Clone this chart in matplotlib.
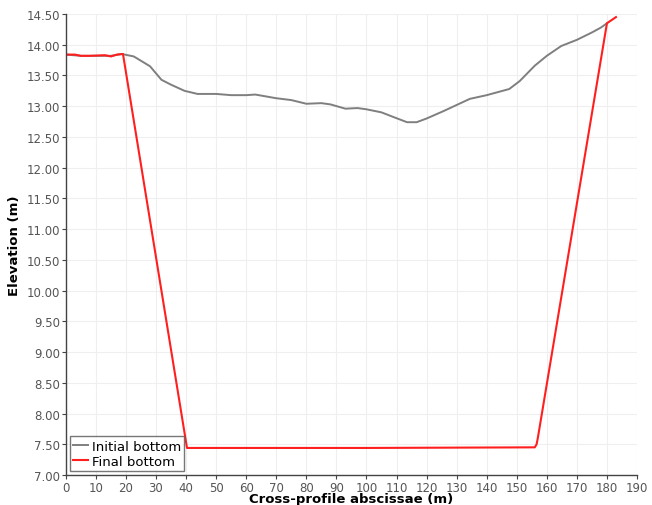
import numpy as np
import matplotlib.pyplot as plt

# cross-profile abscissae (m) and bed elevations (m)
x_init = [0, 5, 10, 15, 18.6, 22.6, 28, 31.8, 35, 39.5, 43.8, 50, 55, 60, 63,
          70, 75, 80, 85, 88, 93, 97, 100, 105, 109.2, 113.5, 116.7, 120,
          125.6, 130, 134.4, 140, 147.5, 151, 156, 160, 164.8, 170, 175, 178, 180]
z_init = [13.84, 13.82, 13.82, 13.82, 13.85, 13.81, 13.65, 13.43, 13.35, 13.25,
          13.20, 13.20, 13.18, 13.18, 13.19, 13.13, 13.10, 13.04, 13.05, 13.03,
          12.96, 12.97, 12.95, 12.90, 12.82, 12.74, 12.74, 12.80, 12.92, 13.02,
          13.12, 13.18, 13.28, 13.41, 13.66, 13.82, 13.98, 14.08, 14.20, 14.28, 14.35]

x_final = [0, 3, 5, 8, 13, 15, 17, 19, 40.3, 100, 156.0, 156.6, 157.0, 180, 183]
z_final = [13.84, 13.84, 13.82, 13.82, 13.83, 13.81, 13.84, 13.85, 7.44, 7.44,
           7.45, 7.50, 7.60, 14.35, 14.45]

xticks = np.arange(0, 191, 10)
yticks = np.arange(7.0, 14.51, 0.5)

fig = plt.figure(figsize=(6.52, 5.06), dpi=100)
ax = fig.add_axes([0.101, 0.0593, 0.876, 0.911])

ax.plot(x_init, z_init, color='#7f7f7f', lw=1.4, label='Initial bottom')
ax.plot(x_final, z_final, color='#ff1f1f', lw=1.5, label='Final bottom')

ax.set_xlim(0, 190)
ax.set_ylim(7.0, 14.5)
ax.set_xticks(xticks)
ax.set_yticks(yticks)
ax.set_yticklabels(['%0.2f' % v for v in yticks])
ax.grid(True, color='#efefef', lw=0.8)
ax.set_axisbelow(True)

for s in ['top', 'right']:
    ax.spines[s].set_visible(False)
for s in ['left', 'bottom']:
    ax.spines[s].set_color('#444444')
    ax.spines[s].set_linewidth(1.0)
ax.tick_params(colors='#444444', labelsize=8.5, length=3, pad=1)
for lb in ax.get_xticklabels() + ax.get_yticklabels():
    lb.set_color('#555555')

ax.set_xlabel('Cross-profile abscissae (m)', fontsize=9.5, fontweight='bold', labelpad=-1)
ax.set_ylabel('Elevation (m)', fontsize=9.5, fontweight='bold', labelpad=4)

leg = ax.legend(loc='lower left', fontsize=9.5, handlelength=1.1, handletextpad=0.3,
                borderpad=0.25, labelspacing=0.15, fancybox=False,
                borderaxespad=0.3)
leg.get_frame().set_edgecolor('#555555')
leg.get_frame().set_linewidth(1.0)

fig.savefig('out.png', dpi=100)
